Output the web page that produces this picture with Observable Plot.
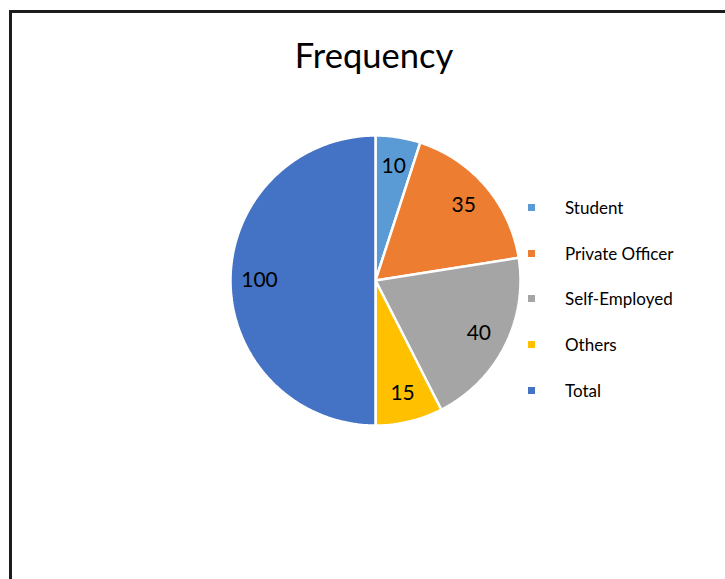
<!DOCTYPE html>
<html>
<head>
<meta charset="utf-8">
<script src="https://cdn.jsdelivr.net/npm/d3@7"></script>
<script src="https://cdn.jsdelivr.net/npm/@observablehq/plot@0.6"></script>
<style>
  html, body { margin: 0; padding: 0; background: #fff; }
  #wrap { position: relative; width: 725px; height: 579px; overflow: hidden; font-family: Lato, "Open Sans", sans-serif; }
  #frame { position: absolute; left: 9px; top: 10px; width: 800px; height: 700px; border-top: 3px solid #1c1c1c; border-left: 3px solid #1c1c1c; box-sizing: border-box; }
  #title { position: absolute; left: 0; width: 748px; top: 38px; text-align: center; font-size: 34.5px; color: #000; line-height: 1; }
  #chart { position: absolute; left: 0; top: 0; }
  .leg { position: absolute; left: 528px; font-size: 17px; color: #000; line-height: 1; }
  .leg span.sw { position: absolute; left: 0; width: 7px; height: 7px; }
  .leg span.tx { position: absolute; left: 37px; white-space: nowrap; }
</style>
</head>
<body>
<div id="wrap">
  <div id="frame"></div>
  <div id="chart"></div>
  <div id="title">Frequency</div>
  <div id="legend"></div>
</div>
<script>
const categories = ["Student", "Private Officer", "Self-Employed", "Others", "Total"];
const values = [10, 35, 40, 15, 100];
const colors = ["#5B9BD5", "#ED7D31", "#A5A5A5", "#FFC000", "#4472C4"];
const titleText = "Frequency";

const arcs = d3.pie().sort(null).value(d => d)(values);

// polygon points for each slice (unit radius, y up)
const pts = [];
arcs.forEach((a, i) => {
  const name = categories[i];
  pts.push({name, x: 0, y: 0});
  const n = Math.max(2, Math.ceil((a.endAngle - a.startAngle) / (Math.PI / 180)));
  for (let k = 0; k <= n; k++) {
    const t = a.startAngle + (a.endAngle - a.startAngle) * k / n;
    pts.push({name, x: Math.sin(t), y: Math.cos(t)});
  }
});

const labels = arcs.map((a, i) => {
  const m = (a.startAngle + a.endAngle) / 2;
  return {name: categories[i], value: values[i], x: 0.8 * Math.sin(m), y: 0.8 * Math.cos(m)};
});

const plot = Plot.plot({
  width: 725,
  height: 579,
  margin: 0,
  x: {domain: [-1, 1], range: [230, 520], axis: null},
  y: {domain: [-1, 1], range: [425, 135], axis: null},
  color: {domain: categories, range: colors},
  style: {background: "transparent", overflow: "visible"},
  marks: [
    Plot.line(pts, {x: "x", y: "y", z: "name", fill: "name", stroke: "white", strokeWidth: 2.5, curve: "linear-closed", strokeLinejoin: "miter"}),
    Plot.text(labels, {x: "x", y: "y", text: d => String(d.value), fill: "#000", fontSize: 21, fontFamily: "Lato, sans-serif"})
  ]
});
document.getElementById("chart").appendChild(plot);

document.getElementById("title").textContent = titleText;
const leg = document.getElementById("legend");
const legTop = [208, 254, 299, 345, 391];
categories.forEach((c, i) => {
  const d = document.createElement("div");
  d.className = "leg";
  d.style.top = legTop[i] + "px";
  d.innerHTML = `<span class="sw" style="background:${colors[i]};top:-4px"></span><span class="tx" style="top:-9px">${c}</span>`;
  leg.appendChild(d);
});
</script>
</body>
</html>
